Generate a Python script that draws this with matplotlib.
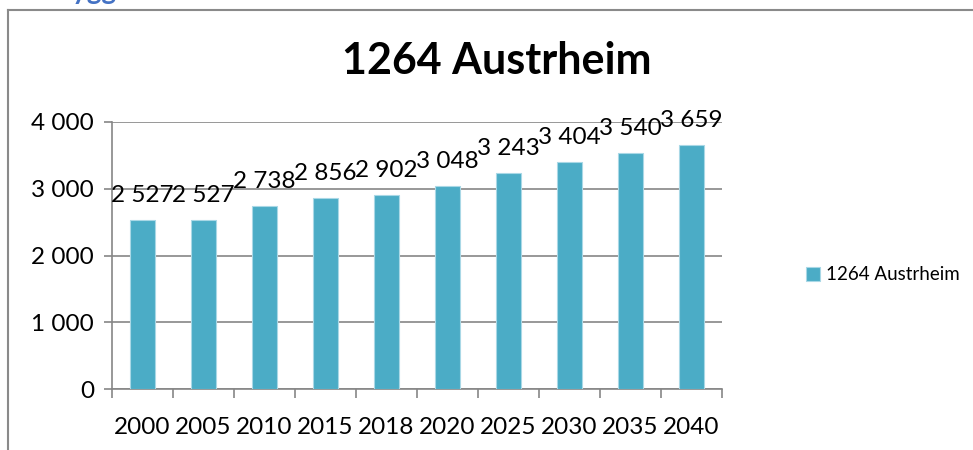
import matplotlib
matplotlib.use("Agg")
import matplotlib.pyplot as plt
from matplotlib.lines import Line2D
import numpy as np

plt.rcParams['font.family'] = ['Lato', 'DejaVu Sans']

years = ["2000", "2005", "2010", "2015", "2018", "2020", "2025", "2030", "2035", "2040"]
values = [2527, 2527, 2738, 2856, 2902, 3048, 3243, 3404, 3540, 3659]
series_name = "1264 Austrheim"
title = "1264 Austrheim"
yticks = [0, 1000, 2000, 3000, 4000]

W, H = 973, 450
fig = plt.figure(figsize=(W / 100, H / 100), dpi=100)

def fmt(v):
    return f"{v:,}".replace(",", " ")

FS = 17.5
ax_l, ax_r, ax_t, ax_b = 112, 722, 122, 389
ax = fig.add_axes([ax_l / W, 1 - ax_b / H, (ax_r - ax_l) / W, (ax_b - ax_t) / H])

x = np.arange(len(years))
bar_color = "#4BACC6"
bars = ax.bar(x, values, width=0.41, color=bar_color, edgecolor="#a9d8e6",
              linewidth=0.8, zorder=3, label=series_name)
ax.set_xlim(-0.5, len(years) - 0.5)
ax.set_ylim(0, 4000)

grey = "#868686"
ax.set_yticks(yticks)
ax.set_yticklabels([fmt(v) for v in yticks])
ax.yaxis.grid(True, color=grey, linewidth=1.2, zorder=0)
ax.set_axisbelow(True)
ax.tick_params(axis='y', length=6, width=1.2, color=grey, pad=7, labelsize=FS)

ax.set_xticks(x)
ax.set_xticklabels(years)
ax.tick_params(axis='x', which='major', length=0, pad=20, labelsize=FS)
ax.set_xticks(np.arange(-0.5, len(years)), minor=True)
ax.tick_params(axis='x', which='minor', length=6.5, width=1.2, color=grey, direction='out')

for s in ["top", "right"]:
    ax.spines[s].set_visible(False)
for s in ["left", "bottom"]:
    ax.spines[s].set_color(grey)
    ax.spines[s].set_linewidth(1.2)

for xi, v in zip(x, values):
    ax.annotate(fmt(v), (xi, v), xytext=(0, 10), textcoords="offset points",
                ha="center", va="bottom", fontsize=FS, zorder=5)

fig.text(497 / W, 1 - 61 / H, title, ha="center", va="center",
         fontsize=31, fontweight="bold")

leg = fig.legend(handles=[bars], labels=[series_name], loc="center left",
                 bbox_to_anchor=(806 / W, 1 - 275 / H), frameon=False,
                 fontsize=13.5, handlelength=0.75, handleheight=0.75,
                 handletextpad=0.3, borderaxespad=0, borderpad=0)

# frame lines
fig.add_artist(Line2D([8 / W, 1.0], [1 - 10 / H, 1 - 10 / H], color="#8a8a8a", linewidth=1.5,
                      transform=fig.transFigure))
fig.add_artist(Line2D([8 / W, 8 / W], [1 - 10 / H, 0], color="#8a8a8a", linewidth=1.5,
                      transform=fig.transFigure))

# cut-off heading at the very top
fig.text(55 / W, 1 + 1 / H, "Bygg", color="#4472C4", fontsize=20, fontweight="bold",
         ha="left", va="baseline")

fig.savefig("out.png", dpi=100)
